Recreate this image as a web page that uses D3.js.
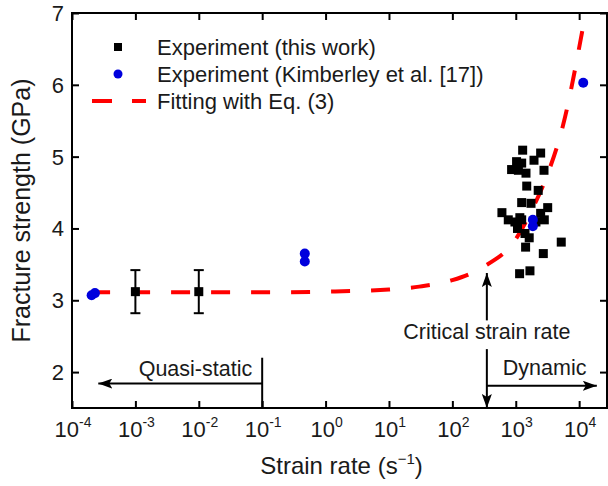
<!DOCTYPE html>
<html>
<head>
<meta charset="utf-8">
<script src="https://cdn.jsdelivr.net/npm/d3@7"></script>
<style>
  html, body { margin: 0; padding: 0; background: #fff; }
  svg { display: block; font-family: "Liberation Sans", Arial, sans-serif; }
</style>
</head>
<body>
<svg id="chart" width="608" height="486"></svg>
<script>
// Quasi-static tests of this work (mean ± spread)
const qsRate  = [1e-3, 1e-2];
const qsMean  = [3.12, 3.12];
const qsErr   = [0.30, 0.30];

// Dynamic tests of this work
const dynRate  = [1285, 2470, 1940, 1030, 1240, 860, 1100, 1450, 2790, 1490,
                  2260, 1240, 1740, 3190, 605, 762, 970, 1240, 2470, 2820,
                  1065, 1400, 1630, 1430, 5220, 2720, 1150, 1675, 2080, 1160];
const dynValue = [5.09, 5.05, 4.95, 4.93, 4.91, 4.82, 4.81, 4.77, 4.81, 4.59,
                  4.53, 4.36, 4.35, 4.29, 4.22, 4.12, 4.09, 4.12, 4.21, 4.12,
                  4.00, 3.93, 3.87, 3.74, 3.81, 3.65, 3.37, 3.41, 4.09, 4.15];

// Kimberley et al. [17]
const kimRate  = [2.04e-4, 2.3e-4, 0.47, 0.47, 1860, 1860, 11600];
const kimValue = [3.07, 3.10, 3.65, 3.54, 4.12, 4.03, 6.03];

// Fitted curve, Eq. (3)
const fitRate  = [2e-4, 1e-3, 1e-2, 1e-1, 1, 10, 30, 100, 300, 1000, 1780, 3160, 5620, 11200];
const fitValue = [3.11, 3.11, 3.11, 3.11, 3.12, 3.15, 3.19, 3.28, 3.46, 3.85, 4.25, 4.75, 5.45, 6.75];

// Axis ticks
const xTickExp = [-4, -3, -2, -1, 0, 1, 2, 3, 4];
const yTicks   = [2, 3, 4, 5, 6, 7];

// Regime annotations
const quasiLimit   = 0.1;
const criticalRate = 350;

const legendLabels = ["Experiment (this work)", "Experiment (Kimberley et al. [17])", "Fitting with Eq. (3)"];

const svg = d3.select("#chart");
const plotL = 72, plotR = 607, plotT = 13, plotB = 408;

const x = d3.scaleLog().domain([1e-4, 2.75e4]).range([plotL, plotR]);
const y = d3.scaleLinear().domain([1.5, 7]).range([plotB, plotT]);

const RED = "#ff0000", BLUE = "#0000dd";

// Fitted curve
const fitData = fitRate.map((r, i) => [r, fitValue[i]]);
svg.append("path")
  .datum(fitData)
  .attr("fill", "none")
  .attr("stroke", RED)
  .attr("stroke-width", 4)
  .attr("stroke-dasharray", "19,21")
  .attr("d", d3.line().x(d => x(d[0])).y(d => y(d[1])).curve(d3.curveMonotoneX));

// Frame and axes (ticks pointing inward)
const tickFmt = () => "";
const xTickVals = xTickExp.map(e => Math.pow(10, e));
svg.append("g").attr("transform", `translate(0,${plotB})`)
  .call(d3.axisTop(x).tickValues(xTickVals).tickFormat(tickFmt).tickSize(7).tickSizeOuter(0));
svg.append("g").attr("transform", `translate(0,${plotT})`)
  .call(d3.axisBottom(x).tickValues(xTickVals).tickFormat(tickFmt).tickSize(7).tickSizeOuter(0));
svg.append("g").attr("transform", `translate(${plotL},0)`)
  .call(d3.axisRight(y).tickValues(yTicks).tickFormat(tickFmt).tickSize(7).tickSizeOuter(0));
svg.append("g").attr("transform", `translate(${plotR},0)`)
  .call(d3.axisLeft(y).tickValues(yTicks).tickFormat(tickFmt).tickSize(7).tickSizeOuter(0));
svg.selectAll(".domain").remove();
svg.selectAll(".tick line").attr("stroke", "#000").attr("stroke-width", 2);
svg.append("rect")
  .attr("x", plotL).attr("y", plotT).attr("width", plotR - plotL).attr("height", plotB - plotT)
  .attr("fill", "none").attr("stroke", "#000").attr("stroke-width", 2);

// X tick labels 10^n
const xl = svg.append("g").attr("font-size", 22).attr("fill", "#1a1a1a");
xTickExp.forEach(e => {
  const t = xl.append("text")
    .attr("x", x(Math.pow(10, e)) + 1)
    .attr("y", 437)
    .attr("text-anchor", "middle");
  t.append("tspan").text("10");
  t.append("tspan").attr("font-size", 14).attr("dy", -10).text(String(e));
});

// Y tick labels
svg.append("g").attr("font-size", 22).attr("fill", "#1a1a1a")
  .selectAll("text").data(yTicks).join("text")
  .attr("x", 64).attr("y", d => y(d)).attr("dy", "0.36em")
  .attr("text-anchor", "end").text(d => d);

// Axis titles
const xt = svg.append("text")
  .attr("x", (plotL + plotR) / 2 + 2).attr("y", 474)
  .attr("text-anchor", "middle").attr("font-size", 24).attr("fill", "#1a1a1a");
xt.append("tspan").text("Strain rate (s");
xt.append("tspan").attr("font-size", 15).attr("dy", -10).text("\u22121");
xt.append("tspan").attr("dy", 10).text(")");

svg.append("text")
  .attr("transform", `translate(30,${(plotT + plotB) / 2}) rotate(-90)`)
  .attr("text-anchor", "middle").attr("font-size", 25).attr("fill", "#1a1a1a")
  .text("Fracture strength (GPa)");

// Arrowhead
svg.append("defs").append("marker")
  .attr("id", "arrow").attr("viewBox", "0 0 14 10")
  .attr("refX", 14).attr("refY", 5)
  .attr("markerWidth", 14).attr("markerHeight", 10)
  .attr("markerUnits", "userSpaceOnUse").attr("orient", "auto")
  .append("path").attr("d", "M0,0 L14,5 L0,10 L3,5 Z").attr("fill", "#000");

const ann = svg.append("g").attr("stroke", "#000").attr("stroke-width", 2);
// Quasi-static regime
ann.append("line")
  .attr("x1", x(quasiLimit)).attr("x2", x(quasiLimit))
  .attr("y1", y(2.2)).attr("y2", plotB);
ann.append("line")
  .attr("x1", x(quasiLimit)).attr("x2", x(2.6e-4))
  .attr("y1", y(1.84)).attr("y2", y(1.84))
  .attr("marker-end", "url(#arrow)");
// Critical strain rate
ann.append("line")
  .attr("x1", x(criticalRate)).attr("x2", x(criticalRate))
  .attr("y1", y(2.72)).attr("y2", y(3.38))
  .attr("marker-end", "url(#arrow)");
ann.append("line")
  .attr("x1", x(criticalRate)).attr("x2", x(criticalRate))
  .attr("y1", y(2.32)).attr("y2", plotB)
  .attr("marker-end", "url(#arrow)");
// Dynamic regime
ann.append("line")
  .attr("x1", x(criticalRate)).attr("x2", x(1.9e4))
  .attr("y1", y(1.81)).attr("y2", y(1.81))
  .attr("marker-end", "url(#arrow)");

const annText = svg.append("g").attr("font-size", 21.5).attr("fill", "#1a1a1a");
annText.append("text").attr("x", x(quasiLimit) - 10).attr("y", y(1.95))
  .attr("text-anchor", "end").text("Quasi-static");
annText.append("text").attr("x", x(criticalRate)).attr("y", y(2.46))
  .attr("text-anchor", "middle").text("Critical strain rate");
annText.append("text").attr("x", x(criticalRate) + 16).attr("y", y(1.96))
  .attr("text-anchor", "start").text("Dynamic");

// Error bars for quasi-static tests
const eb = svg.append("g").attr("stroke", "#000").attr("stroke-width", 2);
qsRate.forEach((r, i) => {
  const cx = x(r);
  eb.append("line").attr("x1", cx).attr("x2", cx)
    .attr("y1", y(qsMean[i] + qsErr[i])).attr("y2", y(qsMean[i] - qsErr[i]));
  [qsMean[i] + qsErr[i], qsMean[i] - qsErr[i]].forEach(v => {
    eb.append("line").attr("x1", cx - 5).attr("x2", cx + 5)
      .attr("y1", y(v)).attr("y2", y(v));
  });
});

// Squares: this work
const sq = 9;
const allRate = qsRate.concat(dynRate);
const allValue = qsMean.concat(dynValue);
svg.append("g").selectAll("rect").data(allRate).join("rect")
  .attr("x", (d) => x(d) - sq / 2)
  .attr("y", (d, i) => y(allValue[i]) - sq / 2)
  .attr("width", sq).attr("height", sq)
  .attr("fill", "#000");

// Circles: Kimberley et al.
svg.append("g").selectAll("circle").data(kimRate).join("circle")
  .attr("cx", d => x(d))
  .attr("cy", (d, i) => y(kimValue[i]))
  .attr("r", 5)
  .attr("fill", BLUE);

// Legend
const lg = svg.append("g");
const rowY = [47, 74, 101];
lg.append("rect").attr("x", 118 - 4).attr("y", rowY[0] - 4).attr("width", 8).attr("height", 8).attr("fill", "#000");
lg.append("circle").attr("cx", 118).attr("cy", rowY[1]).attr("r", 4.5).attr("fill", BLUE);
lg.append("line").attr("x1", 92).attr("x2", 146).attr("y1", rowY[2]).attr("y2", rowY[2])
  .attr("stroke", RED).attr("stroke-width", 4).attr("stroke-dasharray", "20,20");
lg.selectAll("text").data(legendLabels).join("text")
  .attr("x", 157).attr("y", (d, i) => rowY[i]).attr("dy", "0.35em")
  .attr("font-size", 22).attr("fill", "#1a1a1a")
  .text(d => d);
</script>
</body>
</html>
